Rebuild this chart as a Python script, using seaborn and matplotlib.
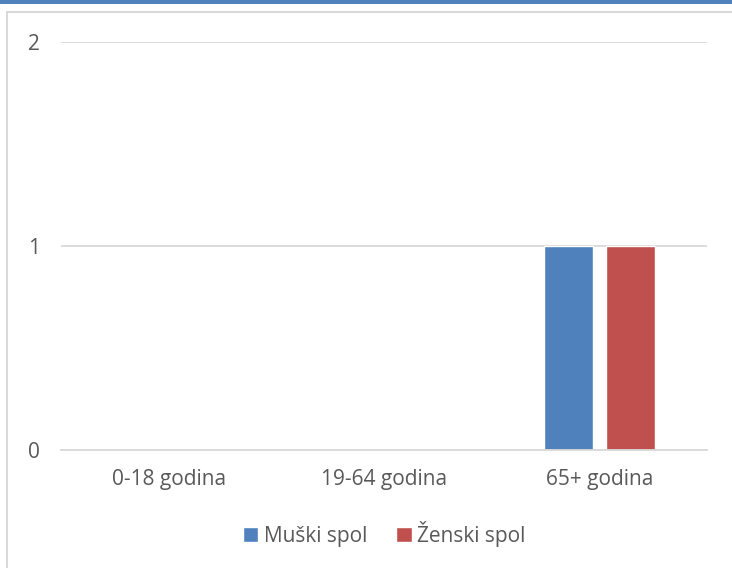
import numpy as np
import pandas as pd
import seaborn as sns
import matplotlib
matplotlib.use("Agg")
import matplotlib.pyplot as plt
from matplotlib.patches import Rectangle

# data
categories = ["0-18 godina", "19-64 godina", "65+ godina"]
muski = [0, 0, 1]
zenski = [0, 0, 1]
series = ["Muški spol", "Ženski spol"]
colors = ["#4f81bd", "#c0504d"]

df = pd.DataFrame({
    "kategorija": categories * 2,
    "spol": [series[0]] * 3 + [series[1]] * 3,
    "broj": muski + zenski,
})

sns.set_theme(style="white")
plt.rcParams["font.family"] = ["Open Sans", "DejaVu Sans"]
txt = "#595959"

fig = plt.figure(figsize=(7.32, 5.68), dpi=100)
ax = fig.add_axes([0.0833, 0.2077, 0.8825, 0.7183])

sns.barplot(data=df, x="kategorija", y="broj", hue="spol", palette=colors,
            width=0.577, gap=0.21, ax=ax, saturation=1, legend=True)

ax.set_ylim(0, 2)
ax.set_yticks([0, 1, 2])
ax.set_xlim(-0.5, 2.5)
ax.yaxis.grid(True, color="#d9d9d9", linewidth=1.3)
ax.set_axisbelow(True)
for s in ["top", "right", "left"]:
    ax.spines[s].set_visible(False)
ax.spines["bottom"].set_color("#d9d9d9")
ax.spines["bottom"].set_linewidth(1.3)
ax.tick_params(axis="both", length=0, labelsize=15, colors=txt)
ax.tick_params(axis="y", pad=15)
ax.tick_params(axis="x", pad=14)
ax.set_xlabel("")
ax.set_ylabel("")

leg = ax.legend(loc="center", bbox_to_anchor=(0.5, -0.205), ncol=2, frameon=False,
                fontsize=15, handlelength=0.75, handleheight=0.75, handletextpad=0.25,
                columnspacing=1.4)
for t in leg.get_texts():
    t.set_color(txt)

# chart frame and top strip
fig.patches.append(Rectangle((7 / 732, -0.01), 1.0, 1 - 12 / 568 + 0.01, transform=fig.transFigure,
                             fill=False, edgecolor="#d9d9d9", linewidth=1.5))
fig.patches.append(Rectangle((0, 1 - 4 / 568), 1, 4 / 568, transform=fig.transFigure,
                             facecolor="#4f81bd", edgecolor="none"))

fig.savefig("out.png", dpi=100)
